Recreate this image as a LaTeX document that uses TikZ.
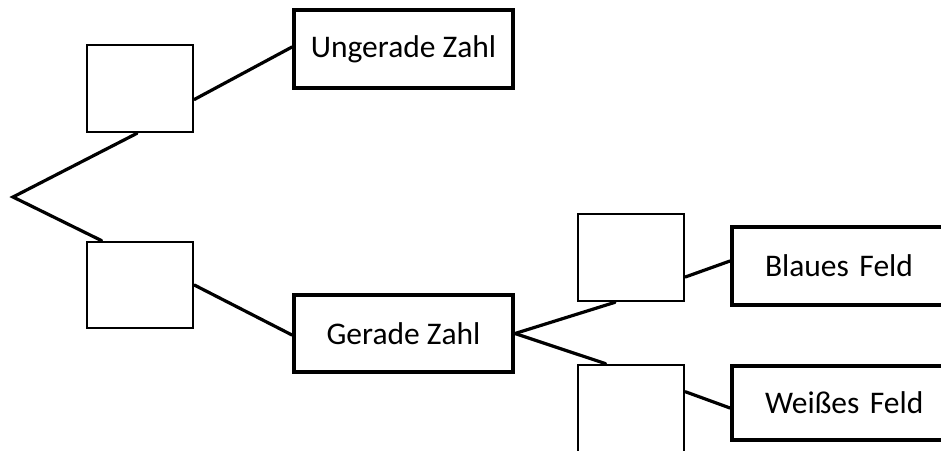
\documentclass[tikz,border=0pt]{standalone}
\usepackage{fontspec}
\setmainfont{Carlito}
\usetikzlibrary{calc}
\begin{document}
\begin{tikzpicture}[x=1pt,y=-1pt,
  emptybox/.style={draw, line width=2.6pt, inner sep=0pt, minimum width=106pt},
  textbox/.style={draw, line width=4pt, inner sep=0pt, minimum width=219pt, font=\fontsize{31.5}{37}\selectfont},
  leftbox/.style={textbox, text width=190pt, inner xsep=33pt, inner ysep=0pt, align=left},
  conn/.style={line width=3.2pt, line cap=round}]
\clip (0,0) rectangle (941,450);
\fill[white] (0,0) rectangle (941,450);
\coordinate (root) at (13,197);
\node[emptybox, minimum height=87pt] (a) at (140,88.5) {};
\node[emptybox, minimum height=86pt] (b) at (140,285) {};
\node[textbox, minimum height=78pt] (odd) at (403.5,49) {Ungerade Zahl};
\node[textbox, minimum height=77pt] (even) at (403.5,333.5) {Gerade Zahl};
\node[emptybox, minimum height=87pt] (c) at (631,257.5) {};
\node[emptybox, minimum height=100pt] (d) at (631,415) {};
\node[leftbox, minimum height=78pt] (blue) at (860,266) {Blaues Feld};
\node[leftbox, minimum height=74pt] (white) at (860,403) {Weißes Feld};
\draw[conn] ($(a.south)+(-3,0)$) -- (root) -- ($(b.north west)+(16,0)$);
\draw[conn] ($(a.east)+(0,11)$) -- ($(odd.west)+(0,-2)$);
\draw[conn] (b.east) -- ($(even.west)+(0,1.5)$);
\draw[conn] (even.east) -- ($(c.south)+(-16,0)$);
\draw[conn] (even.east) -- ($(d.north west)+(29,0)$);
\draw[conn] ($(c.east)+(0,19.5)$) -- ($(blue.west)+(0,-5)$);
\draw[conn] ($(d.north east)+(0,28)$) -- ($(white.west)+(0,5)$);
\end{tikzpicture}
\end{document}
